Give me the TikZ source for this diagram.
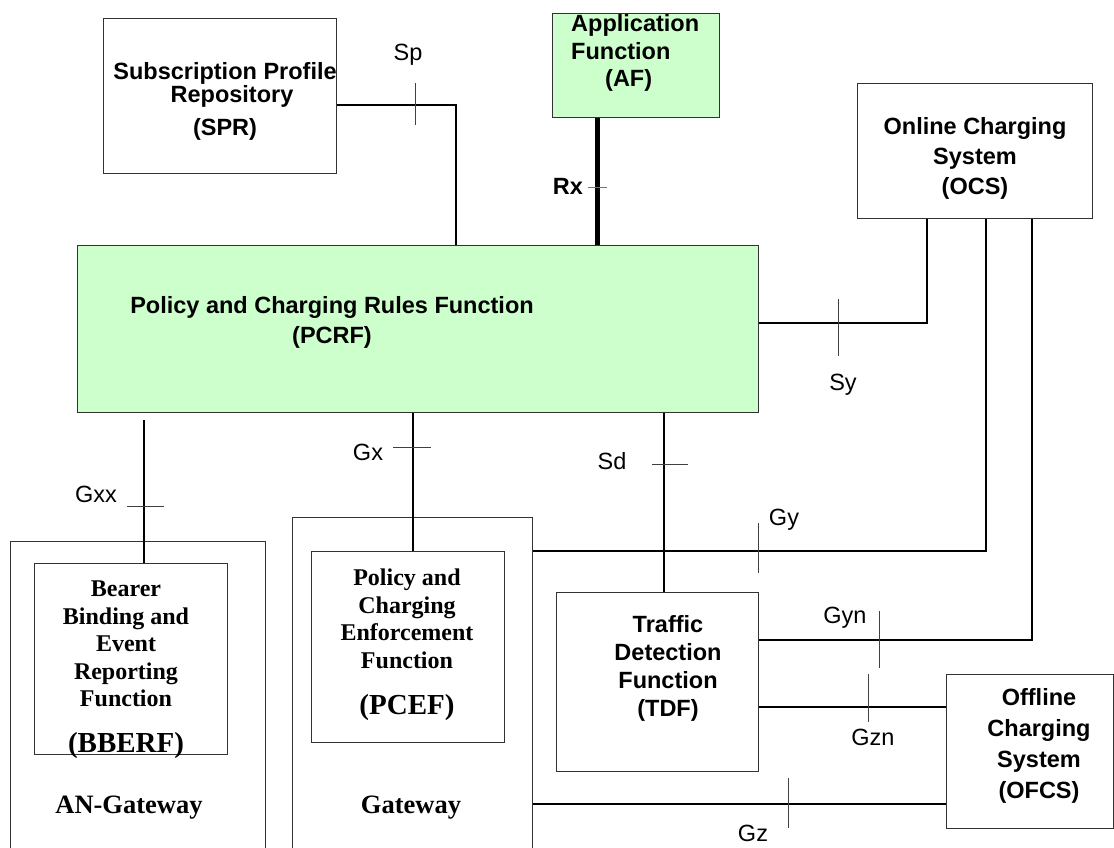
\documentclass[tikz,border=0pt]{standalone}
\usepackage{fontspec}
\setmainfont{Liberation Serif}
\newfontfamily\arialf{Liberation Sans}
\newfontfamily\timesf{Liberation Serif}
\definecolor{pcgreen}{HTML}{CCFFCC}
\definecolor{boxline}{HTML}{333333}
\tikzset{
  box/.style={draw=boxline, line width=1.4pt, inner sep=0pt, anchor=north west},
  greenbox/.style={box, fill=pcgreen},
  conn/.style={line width=1.3pt, black},
  tickmark/.style={line width=1pt, black!75},
  lbl/.style={font=\arialf\fontsize{23.5}{28}\selectfont, inner sep=0pt},
  blbl/.style={font=\arialf\bfseries\fontsize{23.5}{30}\selectfont, align=center, inner sep=0pt},
  tlbl/.style={font=\timesf\bfseries\fontsize{24}{27.5}\selectfont, align=center, inner sep=0pt},
}
\begin{document}
\begin{tikzpicture}[x=1pt,y=-1pt]
\useasboundingbox (0,0) rectangle (1114,847);
\clip (0,0) rectangle (1114,847);
\fill[white] (0,0) rectangle (1114,847);

% boxes
\node[box, minimum width=233pt, minimum height=155pt] (spr) at (103,18) {};
\node[greenbox, minimum width=167pt, minimum height=104pt] (af) at (552,13) {};
\node[box, minimum width=235pt, minimum height=135pt] (ocs) at (857,83) {};
\node[greenbox, minimum width=681pt, minimum height=167pt] (pcrf) at (77,245) {};
\node[box, minimum width=255pt, minimum height=320pt] (angw) at (10,541) {};
\node[box, minimum width=193pt, minimum height=191pt] (bberf) at (34,563) {};
\node[box, minimum width=240pt, minimum height=345pt] (gw) at (292,517) {};
\node[box, minimum width=193pt, minimum height=191pt] (pcef) at (311,551) {};
\node[box, minimum width=202pt, minimum height=179pt] (tdf) at (556,592) {};
\node[box, minimum width=167pt, minimum height=154pt] (ofcs) at (946,674) {};

% box texts
\node[blbl] (sprt) at (225,101) {Subscription Profile\\[-7pt]\hspace*{14pt}Repository\\[3pt](SPR)};
\node[blbl, align=left, anchor=west, font=\arialf\bfseries\fontsize{23.5}{27.5}\selectfont] (aft) at (571,53) {Application\\Function\\\hspace*{34pt}(AF)};
\node[blbl] (ocst) at (975,158) {Online Charging\\System\\(OCS)};
\node[blbl] (pcrft) at (332,322) {Policy and Charging Rules Function\\(PCRF)};
\node[tlbl] (bberft) at (126,644) {Bearer\\Binding and\\Event\\Reporting\\Function};
\node[tlbl, font=\timesf\bfseries\fontsize{29}{30}\selectfont] (bberfa) at (126,746) {(BBERF)};
\node[tlbl] (pceft) at (407,619) {Policy and\\Charging\\Enforcement\\Function};
\node[tlbl, font=\timesf\bfseries\fontsize{29}{30}\selectfont] (pcefa) at (407,708) {(PCEF)};
\node[tlbl, font=\timesf\bfseries\fontsize{26.5}{30}\selectfont] (angwt) at (129,808) {AN-Gateway};
\node[tlbl, font=\timesf\bfseries\fontsize{26.5}{30}\selectfont] (gwt) at (411,808) {Gateway};
\node[blbl, font=\arialf\bfseries\fontsize{23.5}{28}\selectfont] (tdft) at (668,668) {Traffic\\Detection\\Function\\(TDF)};
\node[blbl, font=\arialf\bfseries\fontsize{23.5}{31}\selectfont] (ofcst) at (1039,746) {Offline\\Charging\\System\\(OFCS)};

% connectors
\draw[conn] (spr.east |- 0,105) -| (pcrf.north -| 456,0);
\draw[line width=5pt] (af.south -| 597,0) -- (pcrf.north -| 597,0);
\draw[conn] (pcrf.east |- 0,323) -| (ocs.south -| 927,0);
\draw[conn] (144,420) coordinate (gxxtop) -- (bberf.north -| gxxtop);
\draw[conn] (pcrf.south -| 413,0) -- (pcef.north -| 413,0);
\draw[conn] (pcrf.south -| 664,0) -- (tdf.north -| 664,0);
\draw[conn] (gw.east |- 0,551) -| (ocs.south -| 986,0);
\draw[conn] (tdf.east |- 0,640) -| (ocs.south -| 1032,0);
\draw[conn] (tdf.east |- 0,707) -- (ofcs.west |- 0,707);
\draw[conn] (gw.east |- 0,804) -- (ofcs.west |- 0,804);

% ticks
\draw[tickmark] (415,83) -- (415,125);
\draw[tickmark, black!55] (588,187) -- (607,187);
\draw[tickmark] (838,299) -- (838,356);
\draw[tickmark] (127,506) -- (164,506);
\draw[tickmark] (393,447) -- (431,447);
\draw[tickmark] (652,464) -- (688,464);
\draw[tickmark] (758,523) -- (758,573);
\draw[tickmark] (879,611) -- (879,668);
\draw[tickmark] (868,674) -- (868,722);
\draw[tickmark] (788,778) -- (788,828);

% interface labels
\node[lbl] (sp) at (408,55) {Sp};
\node[lbl, font=\arialf\bfseries\fontsize{23.5}{28}\selectfont] (rx) at (568,186) {Rx};
\node[lbl] (sy) at (843,385) {Sy};
\node[lbl] (gxx) at (96,494) {Gxx};
\node[lbl] (gx) at (368,452) {Gx};
\node[lbl] (sd) at (612,461) {Sd};
\node[lbl] (gy) at (784,520) {Gy};
\node[lbl] (gyn) at (845,618) {Gyn};
\node[lbl] (gzn) at (873,737) {Gzn};
\node[lbl] (gz) at (753,833) {Gz};
\end{tikzpicture}
\end{document}
